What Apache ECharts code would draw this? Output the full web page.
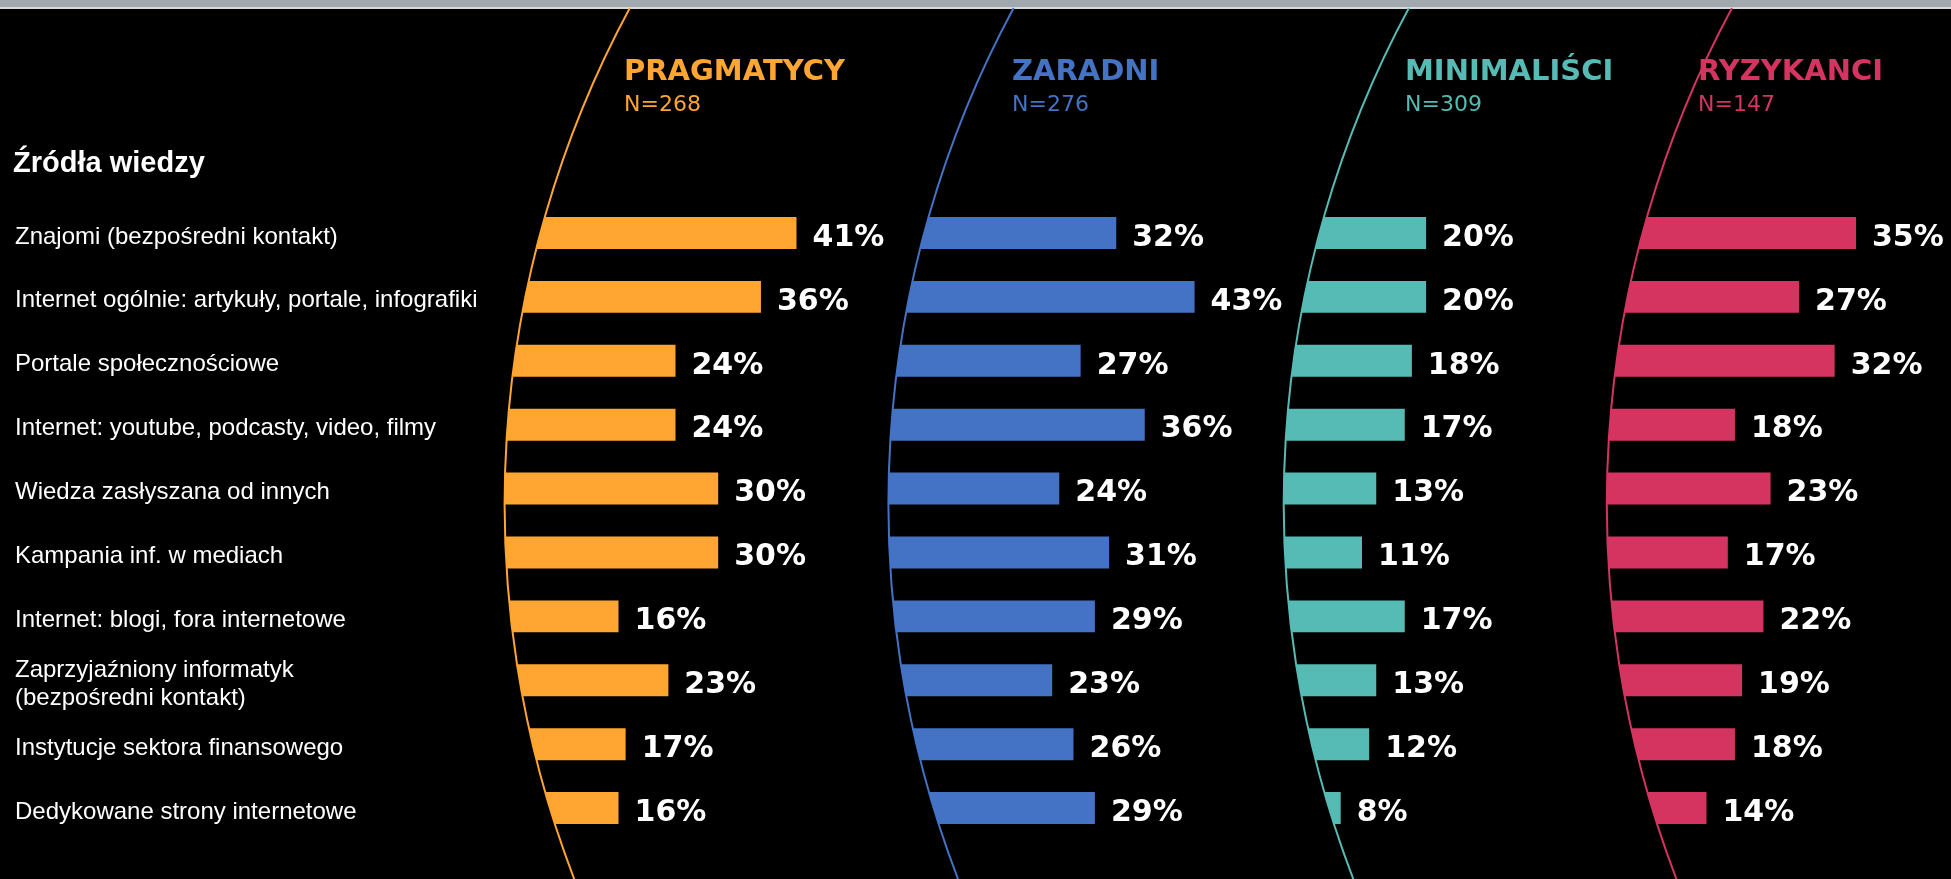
<!DOCTYPE html>
<html>
<head>
<meta charset="utf-8">
<title>Źródła wiedzy</title>
<script src="https://cdn.jsdelivr.net/npm/echarts@6/dist/echarts.min.js"></script>
<style>
  html, body { margin: 0; padding: 0; background: #000; }
  #chart { width: 1951px; height: 879px; }
</style>
</head>
<body>
<div id="chart"></div>
<script>
// kategorie (od góry)
var categories = [
  'Znajomi (bezpośredni kontakt)',
  'Internet ogólnie: artykuły, portale, infografiki',
  'Portale społecznościowe',
  'Internet: youtube, podcasty, video, filmy',
  'Wiedza zasłyszana od innych',
  'Kampania inf. w mediach',
  'Internet: blogi, fora internetowe',
  'Zaprzyjaźniony informatyk\n(bezpośredni kontakt)',
  'Instytucje sektora finansowego',
  'Dedykowane strony internetowe'
]
var groupNames = ['PRAGMATYCY', 'ZARADNI', 'MINIMALIŚCI', 'RYZYKANCI']
var groupN = ['N=268', 'N=276', 'N=309', 'N=147']
var pragmatycy = [41, 36, 24, 24, 30, 30, 16, 23, 17, 16]
var zaradni = [32, 43, 27, 36, 24, 31, 29, 23, 26, 29]
var minimalisci = [20, 20, 18, 17, 13, 11, 17, 13, 12, 8]
var ryzykanci = [35, 27, 32, 18, 23, 17, 22, 19, 18, 14]

var groupData = [pragmatycy, zaradni, minimalisci, ryzykanci]
var colors = ['#FFA532', '#4472C4', '#56BBB4', '#D53461']

// layout
var pxPerPct = 7.12
var axisMax = 40
var baseX = [504.6, 888.4, 1283.7, 1606.8]
var headX = [624, 1012, 1405, 1698]
var gridTop = 201
var gridHeight = 639
var arcR = 1045
var arcCy = 504
var topY = 8

function arcX(x0, y) {
  var dy = y - arcCy
  return x0 + arcR - Math.sqrt(arcR * arcR - dy * dy)
}

function renderBar(params, api) {
  var idx = api.value(1)
  var end = api.coord([api.value(0), idx])
  var start = api.coord([0, idx])
  var h = api.size([0, 1])[1] * 0.5
  var y1 = end[1] - h / 2
  var y2 = end[1] + h / 2
  return {
    type: 'group',
    children: [
      {
        type: 'polygon',
        shape: {
          points: [
            [arcX(start[0], y1), y1],
            [end[0], y1],
            [end[0], y2],
            [arcX(start[0], y2), y2]
          ]
        },
        style: { fill: api.visual('color') }
      },
      {
        type: 'text',
        style: {
          text: api.value(0) + '%',
          x: end[0] + 16,
          y: end[1] + 5,
          fill: '#fff',
          font: 'bold 30px "DejaVu Sans"',
          textAlign: 'left',
          textVerticalAlign: 'middle',
          align: 'left',
          verticalAlign: 'middle'
        }
      }
    ]
  }
}

var myChart = echarts.init(document.getElementById('chart'))

var grids = []
var xAxes = []
var yAxes = []
var series = []
var graphics = [
  { type: 'rect', z: -10, shape: { x: 0, y: 0, width: 1951, height: 9 }, style: { fill: '#A0A8B0' } },
  { type: 'rect', z: -9, shape: { x: 0, y: 7, width: 1951, height: 2 }, style: { fill: '#D6DBE0' } },
  { type: 'rect', z: -8, shape: { x: 0, y: 9, width: 1951, height: 870, r: [14, 0, 0, 0] }, style: { fill: '#000' } },
  {
    type: 'text', left: 13, top: 149, z: 5,
    style: { text: 'Źródła wiedzy', fill: '#fff', font: 'bold 29px "Liberation Sans"' }
  }
]

for (var g = 0; g < 4; g++) {
  grids.push({ left: baseX[g], top: gridTop, width: axisMax * pxPerPct, height: gridHeight })
  xAxes.push({ type: 'value', gridIndex: g, min: 0, max: axisMax, show: false })
  yAxes.push({
    type: 'category',
    gridIndex: g,
    inverse: true,
    data: categories,
    show: false
  })
  series.push({
    name: groupNames[g],
    type: 'custom',
    xAxisIndex: g,
    yAxisIndex: g,
    clip: false,
    itemStyle: { color: colors[g] },
    encode: { x: 0, y: 1 },
    renderItem: renderBar,
    data: groupData[g].map(function (v, i) { return [v, i] })
  })

  var a1 = Math.PI - Math.asin((879 - arcCy) / arcR)
  var a2 = Math.PI + Math.asin((arcCy - topY) / arcR)
  graphics.push({
    type: 'arc', z: 1,
    shape: { cx: baseX[g] + arcR, cy: arcCy, r: arcR, startAngle: a1, endAngle: a2, clockwise: true },
    style: { stroke: colors[g], lineWidth: 2, fill: null }
  })
  graphics.push({
    type: 'text', z: 5, left: headX[g], top: 58,
    style: { text: groupNames[g], fill: colors[g], font: 'bold 29px "DejaVu Sans"' }
  })
  graphics.push({
    type: 'text', z: 5, left: headX[g], top: 94,
    style: { text: groupN[g], fill: colors[g], font: '22px "DejaVu Sans"' }
  })
}

// osobna oś z etykietami kategorii (lekko niżej niż słupki)
grids.push({ left: baseX[0], top: gridTop + 4, width: axisMax * pxPerPct, height: gridHeight })
xAxes.push({ type: 'value', gridIndex: 4, min: 0, max: axisMax, show: false })
yAxes.push({
  type: 'category',
  gridIndex: 4,
  inverse: true,
  data: categories,
  axisLine: { show: false },
  axisTick: { show: false },
  splitLine: { show: false },
  axisLabel: {
    align: 'left',
    margin: baseX[0] - 15,
    color: '#fff',
    fontSize: 24,
    lineHeight: 28,
    fontFamily: 'Liberation Sans'
  }
})

var option = {
  backgroundColor: '#000',
  animation: false,
  grid: grids,
  xAxis: xAxes,
  yAxis: yAxes,
  graphic: graphics,
  series: series
}

myChart.setOption(option)
window.addEventListener('resize', function () { myChart.resize() })
</script>
</body>
</html>
